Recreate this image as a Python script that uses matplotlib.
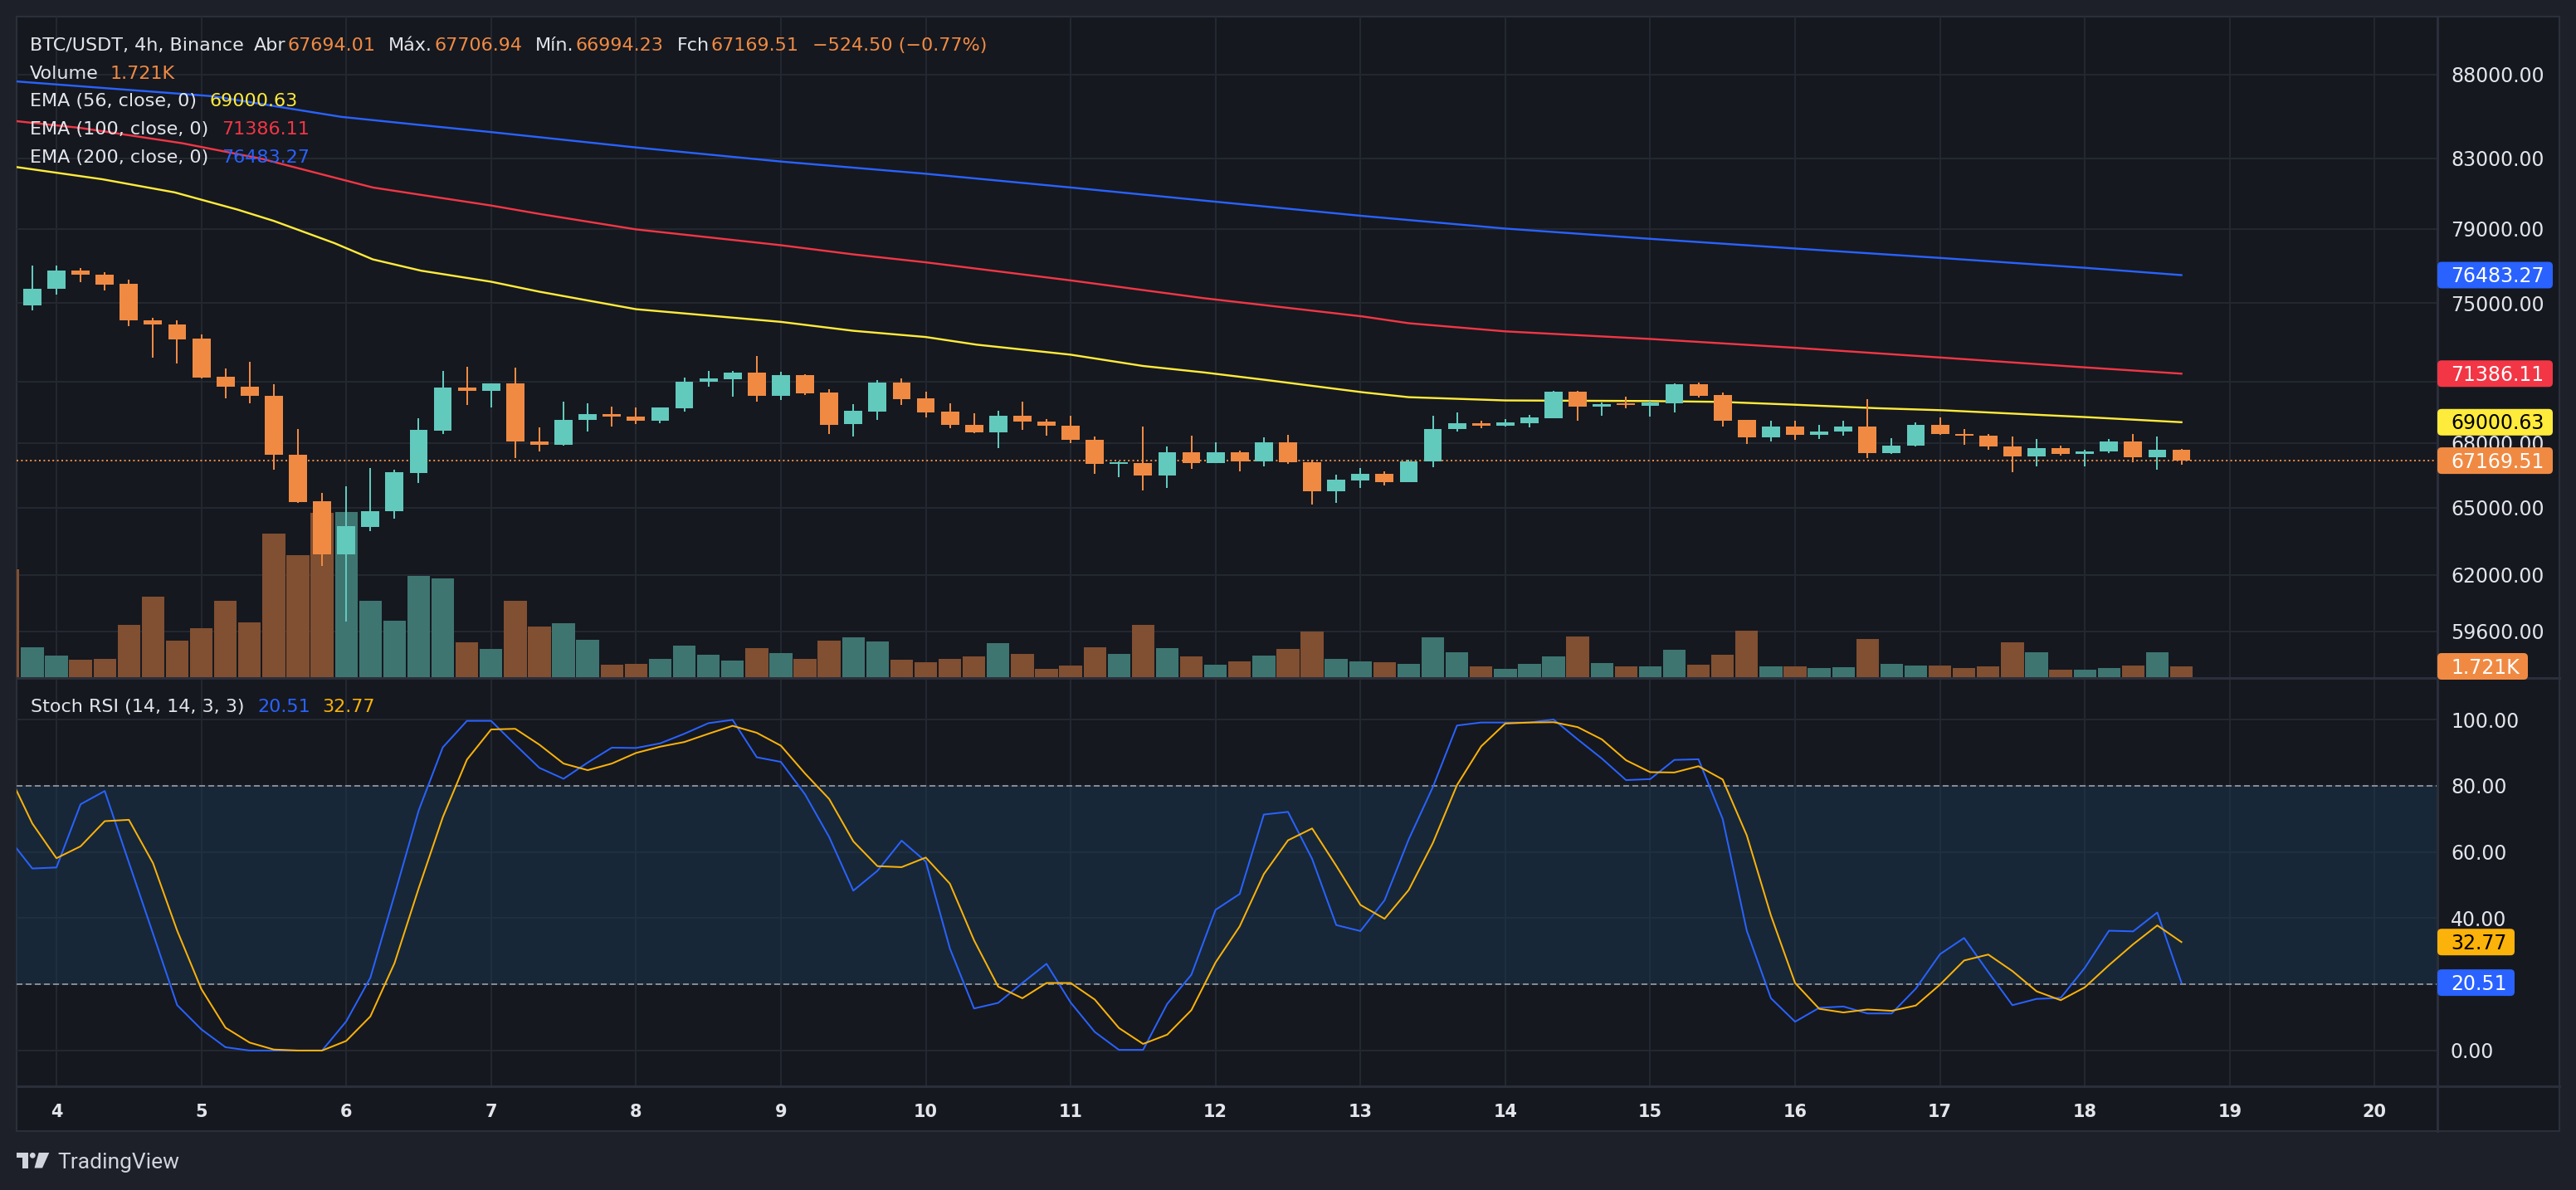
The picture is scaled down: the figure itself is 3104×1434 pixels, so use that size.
import numpy as np
import matplotlib
matplotlib.use('Agg')
import matplotlib.pyplot as plt
from matplotlib.patches import Rectangle, FancyBboxPatch, Polygon, Circle
from matplotlib.lines import Line2D
from matplotlib.ticker import FixedLocator, FixedFormatter, NullLocator
from matplotlib.transforms import IdentityTransform, blended_transform_factory

plt.rcParams['lines.scale_dashes'] = False

# ---- data: BTC/USDT 4h candles (index 1 = day 4, 00:00) ----
opens = [74900, 75740, 76710, 76520, 76000, 74110, 73900, 73150, 71220, 70750,
         70300, 67460, 65270, 62890, 64130, 64820, 66590, 68580, 70710, 70520,
         70915, 68080, 67935, 69105, 69380, 69290, 69080, 69690, 70970, 71120,
         71420, 70290, 71300, 70440, 68900, 69510, 70960, 70150, 69500, 68890,
         68500, 69300, 69050, 68850, 68160, 67010, 67040, 66470, 67580, 67050,
         67580, 67150, 68040, 67110, 65740, 66240, 66540, 66160, 67130, 68660,
         68935, 68830, 68950, 69190, 70510, 69760, 69900, 69800, 69920, 70840,
         70310, 69100, 68255, 68810, 68380, 68540, 68810, 67510, 67860, 68890,
         68450, 68370, 67845, 67360, 67770, 67470, 67590, 68080, 67320, 67694.01]
highs = [76980, 76980, 76850, 76630, 76260, 74250, 74110, 73360, 71630, 71970,
         70880, 68690, 65680, 65990, 66810, 66730, 69180, 71510, 71750, 70920,
         71680, 68770, 69990, 69900, 69740, 69700, 69710, 71210, 71540, 71540,
         72260, 71470, 71350, 70620, 69870, 71070, 71130, 70510, 69910, 69420,
         69570, 69990, 69140, 69300, 68330, 67130, 68810, 67850, 68370, 68040,
         67650, 68280, 68410, 67220, 66500, 66810, 66650, 67230, 69300, 69460,
         69060, 69140, 69340, 70550, 70520, 69950, 70230, 70030, 70920, 70960,
         70430, 69110, 69060, 69060, 68890, 69060, 70110, 68250, 68975, 69220,
         68690, 68450, 68330, 68210, 67890, 67690, 68210, 68450, 68330, 67706.94]
lows = [74600, 75450, 76100, 75650, 73800, 72190, 71900, 71140, 70160, 69920,
        66740, 65200, 62380, 60010, 63950, 64500, 66120, 68420, 69840, 69710,
        67290, 67590, 67890, 68540, 68790, 68900, 68950, 69510, 70725, 70250,
        70010, 70090, 70320, 68430, 68300, 69110, 69840, 69230, 68700, 68460,
        67780, 68620, 68340, 68010, 66550, 66400, 65780, 65890, 66780, 67040,
        66660, 66900, 67030, 65130, 65200, 65890, 66010, 66160, 66860, 68540,
        68700, 68790, 68750, 69190, 69070, 69310, 69680, 69270, 69470, 70200,
        68790, 67970, 68090, 68140, 68210, 68340, 67280, 67500, 67820, 68380,
        67900, 67665, 66630, 66900, 67400, 66900, 67510, 67090, 66740, 66994.23]
closes = [75770, 76710, 76500, 75970, 74080, 73870, 73120, 71180, 70730, 70290,
          67440, 65240, 62890, 64160, 64850, 66610, 68620, 70710, 70520, 70915,
          68060, 67935, 69130, 69380, 69260, 69080, 69700, 71000, 71165, 71420,
          70290, 71300, 70410, 68890, 69540, 70960, 70120, 69470, 68870, 68500,
          69300, 69030, 68830, 68140, 67010, 67080, 66470, 67580, 67050, 67580,
          67150, 68040, 67090, 65740, 66270, 66540, 66160, 67150, 68690, 68935,
          68830, 68975, 69220, 70510, 69760, 69870, 69840, 69950, 70840, 70280,
          69070, 68255, 68810, 68380, 68570, 68810, 67510, 67885, 68890, 68420,
          68340, 67820, 67360, 67770, 67470, 67615, 68080, 67320, 67694.01, 67169.51]
# volume in thousands (K); prev_volume is the bar just left of the first candle
volumes = [4.73, 3.40, 2.74, 2.89, 8.33, 12.82, 5.77, 7.76, 12.15, 8.70,
           22.89, 19.44, 26.20, 26.29, 12.15, 8.99, 16.13, 15.70, 5.53, 4.45,
           12.15, 8.04, 8.55, 5.91, 1.93, 2.08, 2.89, 5.02, 3.55, 2.60,
           4.58, 3.79, 2.89, 5.77, 6.36, 5.69, 2.78, 2.38, 2.91, 3.31,
           5.43, 3.71, 1.32, 1.85, 4.77, 3.71, 8.34, 4.63, 3.31, 1.99,
           2.52, 3.44, 4.50, 7.28, 2.91, 2.52, 2.38, 2.12, 6.36, 3.97,
           1.72, 1.32, 2.12, 3.31, 6.49, 2.25, 1.72, 1.72, 4.37, 1.99,
           3.57, 7.41, 1.72, 1.72, 1.46, 1.59, 6.09, 2.12, 1.85, 1.85,
           1.46, 1.72, 5.56, 3.97, 1.19, 1.19, 1.46, 1.85, 3.97, 1.721]
prev_volume = 17.2

# EMA lines, read at sample bar positions
ema56_idx = [-0.7, 2.9, 5.9, 8.5, 10.0, 12.5, 14.1, 16.1, 19.0, 21.0, 25.0, 31.0, 34.0, 37.0,
             39.1, 43.0, 46.0, 48.5, 51.1, 55.1, 57.0, 61.0, 67.0, 69.9, 73.0, 76.4, 79.1, 85.0, 89.0]
ema56 = [82500, 81790, 81040, 80070, 79440, 78220, 77330, 76720, 76130, 75600, 74680, 74020, 73560, 73240,
         72850, 72340, 71770, 71450, 71070, 70460, 70220, 70060, 70030, 69990, 69850, 69680, 69580, 69250, 69000.63]
ema100_idx = [-0.7, 2.0, 6.2, 9.5, 14.1, 16.1, 19.0, 21.0, 25.0, 31.0, 34.0, 37.0, 43.0, 48.5,
              55.1, 57.0, 61.0, 67.0, 73.0, 79.1, 85.0, 89.0]
ema100 = [85190, 84780, 83880, 82970, 81320, 80900, 80300, 79830, 78970, 78100, 77600, 77170, 76200, 75260,
          74300, 73950, 73530, 73140, 72690, 72190, 71700, 71386.11]
ema200_idx = [-0.7, 7.5, 12.8, 16.1, 19.0, 25.0, 31.0, 37.0, 43.0, 48.5, 55.1, 61.0, 67.0, 73.0, 79.1, 85.0, 89.0]
ema200 = [87590, 86680, 85440, 84950, 84535, 83630, 82810, 82105, 81320, 80580, 79715, 79015, 78450, 77920,
          77400, 76875, 76483.27]

# Stoch RSI, index -1 .. 89
stoch_k = [64.3,
           55.0, 55.3, 74.4, 78.4, 56.8, 35.3, 13.7, 6.4, 1.0, 0.0,
           0.0, 0.0, 0.0, 8.8, 22.0, 47.0, 72.5, 91.6, 99.6, 99.6,
           92.4, 85.4, 82.1, 87.0, 91.5, 91.4, 92.8, 95.7, 98.9, 99.9,
           88.6, 87.2, 77.4, 64.5, 48.3, 54.3, 63.4, 57.1, 30.8, 12.7,
           14.4, 20.4, 26.2, 14.5, 5.6, 0.2, 0.2, 14.1, 22.9, 42.5,
           47.3, 71.3, 72.1, 57.9, 37.9, 36.1, 45.4, 63.8, 79.6, 98.2,
           99.1, 99.1, 99.1, 100.0, 94.0, 88.2, 81.7, 82.0, 87.8, 88.0,
           70.0, 36.2, 15.8, 8.7, 12.9, 13.3, 11.2, 11.2, 18.7, 29.1,
           34.0, 23.7, 13.7, 15.6, 15.9, 25.0, 36.2, 36.0, 41.7, 20.51]
stoch_d = [83.8,
           68.6, 58.1, 61.7, 69.3, 69.7, 56.6, 36.2, 18.6, 6.9, 2.4,
           0.3, 0.0, 0.0, 2.9, 10.3, 26.4, 49.0, 70.5, 87.9, 97.0,
           97.2, 92.4, 86.7, 84.7, 86.7, 89.9, 91.8, 93.2, 95.7, 98.1,
           96.0, 92.1, 83.7, 76.0, 63.2, 55.7, 55.4, 58.3, 50.4, 33.3,
           19.3, 15.8, 20.4, 20.4, 15.4, 6.8, 2.0, 4.8, 12.2, 26.6,
           37.5, 53.3, 63.5, 67.1, 55.8, 44.0, 39.8, 48.5, 62.7, 80.2,
           91.9, 98.8, 99.1, 99.2, 97.7, 94.0, 87.7, 84.1, 84.0, 85.9,
           81.9, 65.0, 40.8, 20.4, 12.6, 11.5, 12.4, 12.0, 13.6, 19.9,
           27.2, 29.0, 24.0, 17.9, 15.2, 19.1, 25.8, 32.1, 37.8, 32.77]

day_labels = list(range(4, 21))
price_ticks = [88000, 83000, 79000, 75000, 71000, 68000, 65000, 62000, 59600]
rsi_ticks = [100, 80, 60, 40, 20, 0]
# tick labels the value boxes cover completely in the reference
hidden_price = [71000]
hidden_rsi = [20]

# ---- styling ----
W, H, DPI = 3104, 1434, 100
OUTER = '#1e2029'
BG = '#15181f'
GRID = '#23272f'
SEP = '#2b2f3a'
TEXT = '#e3e5ea'
UP = '#62c9bd'
DOWN = '#f08a43'
UP_VOL = '#3e7571'
DOWN_VOL = '#814f31'
YELLOW = '#ffeb3b'
RED = '#f23645'
BLUE = '#2962ff'
AMBER = '#fbb20a'


def fx(x):
    return x / W


def fy(y):
    return 1 - y / H


def pt(p):
    return p * 72 / DPI


fig = plt.figure(figsize=(W / DPI, H / DPI), dpi=DPI, facecolor=OUTER)
fig.add_artist(Rectangle((fx(20), fy(1363)), fx(3084) - fx(20), fy(20) - fy(1363),
                         transform=fig.transFigure, facecolor=BG, edgecolor=SEP,
                         lw=pt(2), zorder=-5))

main_rect = [fx(20), fy(816), fx(2937) - fx(20), fy(20) - fy(816)]
rsi_rect = [fx(20), fy(1309), fx(2937) - fx(20), fy(818) - fy(1309)]
ax_vol = fig.add_axes(main_rect, label='vol', zorder=1)
ax = fig.add_axes(main_rect, label='price', zorder=2)
ax_r = fig.add_axes(rsi_rect, label='rsi', zorder=2)
for a in (ax_vol, ax, ax_r):
    a.patch.set_visible(False)
    for s in a.spines.values():
        s.set_visible(False)
    a.set_xlim(-0.65, 99.6)
    a.set_xticks([])

idx = np.arange(len(closes))
o = np.array(opens)
c = np.array(closes)
up = c >= o
day_pos = [1 + (d - 4) * 6 for d in day_labels]

# price pane
ax.set_yscale('log')
ax.set_ylim(57725, 91651)
ax.yaxis.tick_right()
ax.yaxis.set_major_locator(FixedLocator(price_ticks))
ax.yaxis.set_major_formatter(FixedFormatter(
    ['' if p in hidden_price else f'{p:.2f}' for p in price_ticks]))
ax.yaxis.set_minor_locator(NullLocator())
ax.tick_params(axis='y', which='both', length=0, pad=pt(16), labelsize=17, labelcolor=TEXT)

ax_vol.set_ylim(0, 105.4)
ax_vol.set_yticks([])
grid_tr = blended_transform_factory(ax_vol.transAxes, ax.transData)
for p in price_ticks:
    ax_vol.add_line(Line2D([0, 1], [p, p], transform=grid_tr, color=GRID, lw=pt(2), zorder=0))
for dp in day_pos:
    ax_vol.axvline(dp, color=GRID, lw=pt(2), zorder=0)

ax_vol.bar(-1, prev_volume, width=0.94, color=DOWN_VOL, lw=0, zorder=2)
ax_vol.bar(idx, volumes, width=0.94, color=[UP_VOL if u else DOWN_VOL for u in up], lw=0, zorder=2)

ccol = [UP if u else DOWN for u in up]
ax.axhline(closes[-1], color=DOWN, lw=pt(2), dashes=(pt(2), pt(3.4)), zorder=1)
ax.plot(ema200_idx, ema200, color=BLUE, lw=pt(2.4), zorder=2)
ax.plot(ema100_idx, ema100, color=RED, lw=pt(2.4), zorder=2)
ax.plot(ema56_idx, ema56, color=YELLOW, lw=pt(2.4), zorder=2)
ax.vlines(idx, lows, highs, colors=ccol, lw=pt(2), zorder=3)
ax.bar(idx, np.maximum(np.abs(c - o), 40), bottom=np.minimum(o, c), width=0.75,
       color=ccol, lw=0, zorder=4)

# stoch rsi pane
ax_r.set_ylim(-10.8, 112.3)
for v in rsi_ticks:
    ax_r.axhline(v, color=GRID, lw=pt(2), zorder=0)
for dp in day_pos:
    ax_r.axvline(dp, color=GRID, lw=pt(2), zorder=0)
ax_r.axhspan(20, 80, color='#1a3a55', alpha=0.45, lw=0, zorder=1)
for v in (80, 20):
    ax_r.axhline(v, color='#868993', lw=pt(2), dashes=(pt(7), pt(4)), zorder=2)
rsi_x = np.arange(-1, len(stoch_k) - 1)
ax_r.plot(rsi_x, stoch_k, color=BLUE, lw=pt(2), zorder=3)
ax_r.plot(rsi_x, stoch_d, color=AMBER, lw=pt(2), zorder=4)
ax_r.yaxis.tick_right()
ax_r.yaxis.set_major_locator(FixedLocator(rsi_ticks))
ax_r.yaxis.set_major_formatter(FixedFormatter(
    ['' if v in hidden_rsi else f'{v:.2f}' for v in rsi_ticks]))
ax_r.tick_params(axis='y', length=0, pad=pt(16), labelsize=17, labelcolor=TEXT)

# separators
for yy in (817, 1309):
    fig.add_artist(Line2D([fx(20), fx(3084)], [fy(yy), fy(yy)], transform=fig.transFigure,
                          color=SEP, lw=pt(3), zorder=5))
fig.add_artist(Line2D([fx(2937), fx(2937)], [fy(20), fy(1363)], transform=fig.transFigure,
                      color=SEP, lw=pt(3), zorder=5))


# value boxes on the right scale
def value_box(axis, value, text, fc, tc, w):
    yd = axis.transData.transform((0, value))[1]
    fig.add_artist(FancyBboxPatch((2937, yd - 16), w, 32,
                                  boxstyle='round,pad=0,rounding_size=5',
                                  transform=IdentityTransform(), fc=fc, ec='none', zorder=6))
    fig.text(fx(2953), (yd - 8.6) / H, text, color=tc, fontsize=17,
             va='baseline', ha='left', zorder=7)


value_box(ax, ema200[-1], f'{ema200[-1]:.2f}', BLUE, 'white', 139)
value_box(ax, ema100[-1], f'{ema100[-1]:.2f}', RED, 'white', 139)
value_box(ax, ema56[-1], f'{ema56[-1]:.2f}', YELLOW, 'black', 139)
value_box(ax, closes[-1], f'{closes[-1]:.2f}', DOWN, 'white', 139)
value_box(ax_vol, volumes[-1], f'{volumes[-1]:.3f}K', DOWN, 'white', 109)
value_box(ax_r, stoch_d[-1], f'{stoch_d[-1]:.2f}', AMBER, 'black', 93)
value_box(ax_r, stoch_k[-1], f'{stoch_k[-1]:.2f}', BLUE, 'white', 93)

# time axis
for d, dp in zip(day_labels, day_pos):
    xd = ax_r.transData.transform((dp, 0))[0]
    fig.text(xd / W, fy(1345.6), str(d), ha='center', va='baseline', fontsize=15,
             fontweight='bold', color=TEXT)

# legends
renderer = fig.canvas.get_renderer()


def legend_row(y_center, x0, parts, size=16):
    base = fy(y_center + 0.3645 * size * DPI / 72)
    x = x0
    for s, col, gap in parts:
        t = fig.text(fx(x), base, s, color=col, fontsize=size, va='baseline', ha='left', zorder=8)
        x += t.get_window_extent(renderer).width + gap


chg = closes[-1] - opens[-1]
legend_row(53, 36, [('BTC/USDT, 4h, Binance', TEXT, 12), ('Abr', TEXT, 2),
                    (f'{opens[-1]:.2f}', DOWN, 16), ('Máx.', TEXT, 2),
                    (f'{highs[-1]:.2f}', DOWN, 16), ('Mín.', TEXT, 2),
                    (f'{lows[-1]:.2f}', DOWN, 16), ('Fch', TEXT, 2),
                    (f'{closes[-1]:.2f}', DOWN, 16),
                    (f'\u2212{abs(chg):.2f} (\u2212{abs(chg) / opens[-1] * 100:.2f}%)', DOWN, 0)])
legend_row(86.5, 36, [('Volume', TEXT, 14), (f'{volumes[-1]:.3f}K', DOWN, 0)])
legend_row(120, 36, [('EMA (56, close, 0)', TEXT, 16), (f'{ema56[-1]:.2f}', YELLOW, 0)])
legend_row(154, 36, [('EMA (100, close, 0)', TEXT, 16), (f'{ema100[-1]:.2f}', RED, 0)])
legend_row(188, 36, [('EMA (200, close, 0)', TEXT, 16), (f'{ema200[-1]:.2f}', BLUE, 0)])
legend_row(850, 37, [('Stoch RSI (14, 14, 3, 3)', TEXT, 16), (f'{stoch_k[-1]:.2f}', BLUE, 14),
                     (f'{stoch_d[-1]:.2f}', AMBER, 0)])

# TradingView logo
LOGO = '#d1d4dc'
idt = IdentityTransform()


def lp(x, y):
    return (x, H - y)


fig.add_artist(Polygon([lp(20, 1389), lp(34, 1389), lp(34, 1407.5), lp(26.7, 1407.5),
                        lp(26.7, 1394.5), lp(20, 1394.5)], closed=True, transform=idt,
                       fc=LOGO, ec='none'))
fig.add_artist(Circle(lp(39.3, 1392.3), 3.4, transform=idt, fc=LOGO, ec='none'))
fig.add_artist(Polygon([lp(46.7, 1389), lp(59.3, 1389), lp(51, 1407.5), lp(41.5, 1407.5)],
                       closed=True, transform=idt, fc=LOGO, ec='none'))
fig.text(fx(69), fy(1408.3), 'TradingView', color=LOGO, fontsize=19, family='Roboto',
         va='baseline', ha='left')

fig.savefig('out.png', dpi=DPI, facecolor=OUTER)
